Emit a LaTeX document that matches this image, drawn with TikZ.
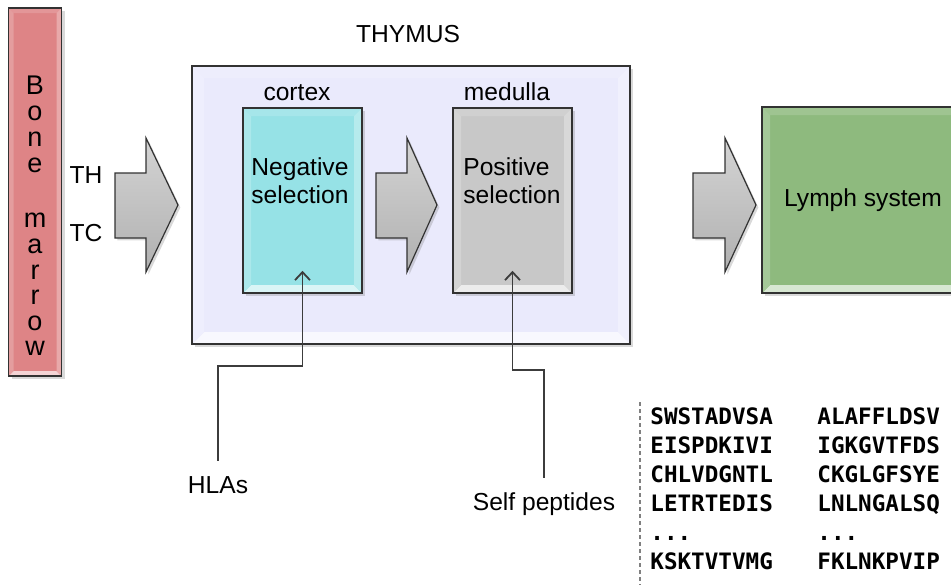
\documentclass[tikz,border=0pt]{standalone}
\usepackage{fontspec}
\setmainfont{Liberation Sans}
\newfontfamily\pepfont{DejaVu Sans Mono}
\usetikzlibrary{calc,shadows,arrows.meta}

\definecolor{bonec}{RGB}{222,132,134}
\definecolor{thyc}{RGB}{234,234,252}
\definecolor{negc}{RGB}{150,226,230}
\definecolor{posc}{RGB}{200,200,200}
\definecolor{lymc}{RGB}{142,186,126}
\definecolor{arrowtop}{RGB}{212,212,212}
\definecolor{arrowbot}{RGB}{176,176,176}
\definecolor{boxline}{RGB}{50,50,50}
\definecolor{connc}{RGB}{60,60,60}

\tikzset{
  bevel/.style 2 args={fill=#1, path picture={
    \fill[#1!35!white] (path picture bounding box.south west) -- (path picture bounding box.south east)
      -- ([shift={(-#2,#2)}]path picture bounding box.south east) -- ([shift={(#2,#2)}]path picture bounding box.south west) -- cycle;
    \fill[#1!85!white] (path picture bounding box.north west) -- (path picture bounding box.north east)
      -- ([shift={(-#2,-#2)}]path picture bounding box.north east) -- ([shift={(#2,-#2)}]path picture bounding box.north west) -- cycle;
    \fill[#1!80!white] (path picture bounding box.north west) -- (path picture bounding box.south west)
      -- ([shift={(#2,#2)}]path picture bounding box.south west) -- ([shift={(#2,-#2)}]path picture bounding box.north west) -- cycle;
    \fill[#1!70!white] (path picture bounding box.north east) -- (path picture bounding box.south east)
      -- ([shift={(-#2,#2)}]path picture bounding box.south east) -- ([shift={(-#2,-#2)}]path picture bounding box.north east) -- cycle;
  }},
  box/.style={draw=boxline, line width=0.8pt, inner sep=0pt,
    drop shadow={shadow xshift=1.5pt, shadow yshift=-1.5pt, opacity=0.3}},
  lbl/.style={font=\fontsize{12.3}{14}\selectfont, inner sep=0pt},
  bonelbl/.style={font=\fontsize{13.5}{14}\selectfont, inner sep=0pt},
  pep/.style={font=\pepfont\bfseries\fontsize{11.3}{14.5}\selectfont, inner sep=0pt, align=left},
  conn/.style={draw=connc, line width=0.9pt, -{Straight Barb[length=4pt,width=7.5pt]}},
  blockarrow/.style={top color=arrowtop, bottom color=arrowbot, draw=boxline, line width=0.6pt, line join=miter,
    drop shadow={shadow xshift=1.2pt, shadow yshift=-1.2pt, opacity=0.3}},
}

\begin{document}
\begin{tikzpicture}[x=0.5pt,y=-0.5pt]
\useasboundingbox (0,0) rectangle (951,584);
\clip (0,0) rectangle (951,584);

% Bone marrow bar
\node[box, bevel={bonec}{2.5pt}, minimum width=26.5pt, minimum height=184pt] (bone) at (35,192) {};
\foreach \l/\y [count=\i] in {B/94,o/120,n/146,e/172,m/227,a/253,r/279,r/304,o/330,w/355}
  \node[bonelbl, anchor=base] (bm\i) at (35,\y) {\l};

% TH / TC
\node[lbl, anchor=base] (th) at (86,183) {TH};
\node[lbl, anchor=base] (tc) at (86,241) {TC};

% Block arrows
\path[blockarrow] (115,173) -- (146,173) -- (146,138) -- (178,205) -- (146,272) -- (146,238) -- (115,238) -- cycle;
\path[blockarrow] (693,173) -- (725,173) -- (725,138) -- (756,205) -- (725,272) -- (725,238) -- (693,238) -- cycle;

% Thymus
\node[lbl, anchor=base] (thymuslbl) at (408,42) {THYMUS};
\node[box, bevel={thyc}{6pt}, minimum width=219pt, minimum height=139pt] (thymus) at (411,205) {};
\path[blockarrow] (376,173) -- (407,173) -- (407,138) -- (437,205) -- (407,272) -- (407,238) -- (376,238) -- cycle;

% Cortex / medulla
\node[lbl, anchor=base] (cortex) at (297,100) {cortex};
\node[lbl, anchor=base] (medulla) at (507,100) {medulla};
\node[box, bevel={negc}{4pt}, minimum width=59.5pt, minimum height=92.5pt] (neg) at (302.5,200.5) {};
\node[box, bevel={posc}{4pt}, minimum width=59.5pt, minimum height=92.5pt] (pos) at (512.5,200.5) {};
\node[lbl, align=left, anchor=north west] (negtxt) at (251,157.4) {Negative\\selection};
\node[lbl, align=left, anchor=north west] (postxt) at (463,157.4) {Positive\\selection};

% Lymph system
\node[box, bevel={lymc}{4pt}, minimum width=101pt, minimum height=93pt, font=\fontsize{12.3}{14}\selectfont] (lymph) at (863,200) {Lymph system};

% HLAs and Self peptides
\node[lbl, anchor=base] (hla) at (218,493) {HLAs};
\node[lbl, anchor=base] (sp) at (544,510) {Self peptides};
\draw[conn] ([yshift=7.5pt]hla.north) |- ($(neg.south)+(0,72)$) -- ($(neg.south)+(0,-23)$);
\draw[conn] ([yshift=7pt]sp.north) |- ($(pos.south)+(0,76)$) -- ($(pos.south)+(0,-23)$);

% Peptide list
\coordinate (dtop) at (640,402);
\coordinate (dbot) at (640,590);
\draw[gray, line width=0.75pt, dash pattern=on 2pt off 1.5pt] (dtop) -- (dbot);
\node[pep, anchor=north west] (col1) at (650,407.5) {SWSTADVSA\\EISPDKIVI\\CHLVDGNTL\\LETRTEDIS\\...\\KSKTVTVMG};
\node[pep, anchor=north west] (col2) at (817,407.5) {ALAFFLDSV\\IGKGVTFDS\\CKGLGFSYE\\LNLNGALSQ\\...\\FKLNKPVIP};
\end{tikzpicture}
\end{document}
